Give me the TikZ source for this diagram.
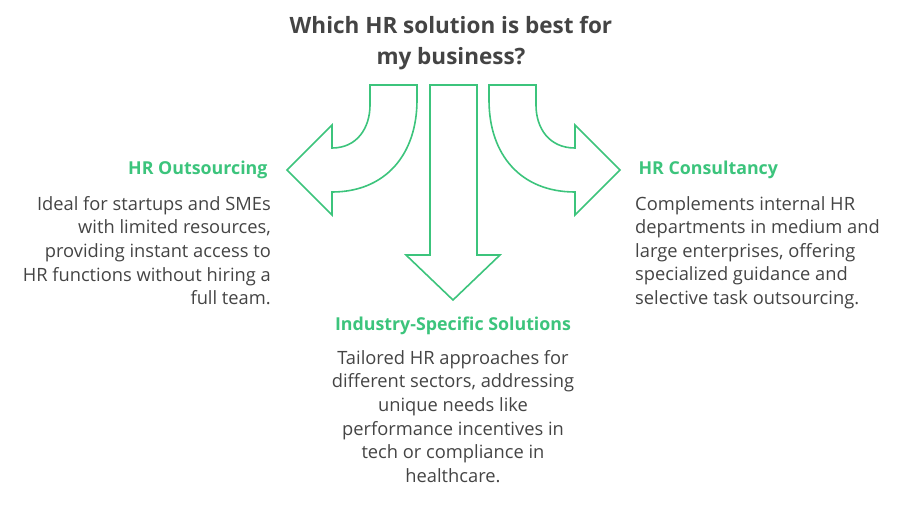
\documentclass[tikz,border=0pt]{standalone}
\usepackage{fontspec}
\setmainfont{Open Sans}
\definecolor{grn}{HTML}{3CC47C}
\definecolor{txt}{HTML}{444444}
\begin{document}
\begin{tikzpicture}[x=1pt,y=-1pt,
  arr/.style={draw=grn,line width=1.6pt,fill=white,line join=miter},
  head/.style={text=grn,font=\fontsize{17.8}{20}\selectfont\bfseries},
  body/.style={text=txt,font=\fontsize{18.3}{23.6}\selectfont,inner sep=0}]
\useasboundingbox (0,0) rectangle (903,509);
\node[font=\fontsize{22.5}{31}\selectfont\bfseries,text=txt,align=center] (title) at (451,43) {Which HR solution is best for\\my business?};
\path[arr] (370,85) -- (417,85) -- (417,100) .. controls (417,155) and (385,192) .. (332,192) -- (332,215) -- (287,170) -- (332,125) -- (332,148) .. controls (357,148) and (370,128) .. (370,105) -- cycle;
\path[arr] (536,85) -- (489,85) -- (489,100) .. controls (489,155) and (521,192) .. (575,192) -- (575,215) -- (620,170) -- (575,125) -- (575,148) .. controls (549,148) and (536,128) .. (536,105) -- cycle;
\path[arr] (430,85) -- (477,85) -- (477,255) -- (500,255) -- (453,300) -- (406,255) -- (430,255) -- cycle;
\node[head,anchor=east] (h1) at (271,170) {HR Outsourcing};
\node[body,anchor=north east,align=right] (b1) at (271,196) {Ideal for startups and SMEs\\with limited resources,\\providing instant access to\\HR functions without hiring a\\full team.};
\node[head,anchor=west] (h3) at (635,170) {HR Consultancy};
\node[body,anchor=north west,align=left] (b3) at (635,196) {Complements internal HR\\departments in medium and\\large enterprises, offering\\specialized guidance and\\selective task outsourcing.};
\node[head] (h2) at (453,326) {Industry-Specific Solutions};
\node[body,anchor=north,align=center] (b2) at (453,350) {Tailored HR approaches for\\different sectors, addressing\\unique needs like\\performance incentives in\\tech or compliance in\\healthcare.};
\end{tikzpicture}
\end{document}
